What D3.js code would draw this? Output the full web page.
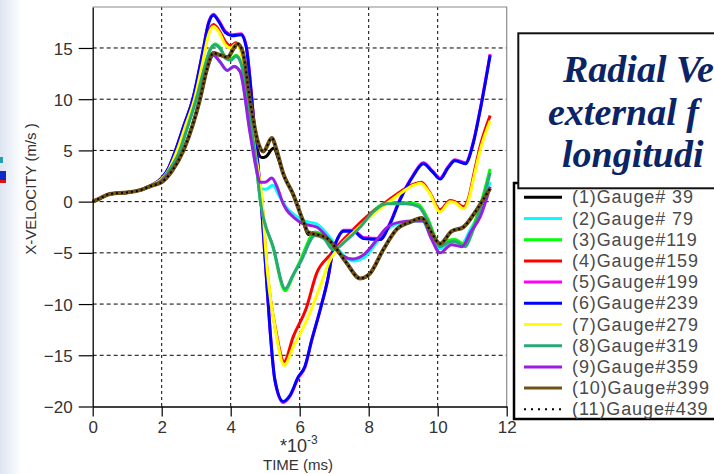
<!DOCTYPE html>
<html>
<head>
<meta charset="utf-8">
<script src="https://cdn.jsdelivr.net/npm/d3@7"></script>
<style>
  body { margin: 0; background: #fff; }
  svg { display: block; font-family: "Liberation Sans", Arial, sans-serif; }
</style>
</head>
<body>
<div id="chart"></div>
<script>
// tick values
const timeTicks = [0, 2, 4, 6, 8, 10, 12]
const velTicks = [-20, -15, -10, -5, 0, 5, 10, 15]

const gaugeLabels = ['(1)Gauge# 39', '(2)Gauge# 79', '(3)Gauge#119', '(4)Gauge#159', '(5)Gauge#199',
    '(6)Gauge#239', '(7)Gauge#279', '(8)Gauge#319', '(9)Gauge#359', '(10)Gauge#399', '(11)Gauge#439']

const titleLines = ['Radial Ve', 'external f', 'longitudi']

// [time (ms *10^-3), x-velocity (m/s)]
const g39 = [[0,0],[0.2,0.3],[0.5,0.75],[1.0,0.9],[1.4,1.15],[1.7,1.55],[2.0,1.9],[2.3,3.0],[2.63,5.0],[2.9,7.5],[3.11,10],[3.3,12.8],[3.5,14.5],[3.7,14.3],[3.9,14.1],[4.2,15.4],[4.35,14.6],[4.56,9.9],[4.75,5.4],[4.9,4.3],[5.02,4.4],[5.24,5.2],[5.4,4.0],[5.55,2.5],[5.8,0.8],[6.1,-1.9],[6.25,-3.2],[6.45,-3.0],[6.6,-3.2],[6.8,-3.6],[7.02,-4.4],[7.36,-6.0],[7.75,-7.5],[8.04,-7.0],[8.42,-4.7],[8.81,-2.7],[9.2,-2.0],[9.54,-1.6],[9.78,-2.8],[10.07,-4.1],[10.4,-2.9],[10.74,-2.5],[11.13,-0.8],[11.52,1.3]]
const g79 = [[0,0],[0.2,0.3],[0.5,0.75],[1.0,0.9],[1.4,1.15],[1.7,1.55],[2.0,2.0],[2.3,3.1],[2.63,5.0],[2.9,7.5],[3.11,10],[3.3,12.8],[3.5,14.3],[3.7,13.6],[3.9,12.8],[4.1,13.2],[4.27,12.7],[4.56,6.9],[4.75,3.0],[4.88,1.3],[5.02,1.2],[5.22,1.6],[5.4,0.6],[5.62,-0.6],[5.85,-1.3],[6.06,-1.8],[6.5,-2.2],[6.9,-3.6],[7.2,-5.0],[7.55,-5.8],[7.85,-5.5],[8.23,-4.0],[8.5,-2.8],[8.9,-2.1],[9.3,-1.9],[9.55,-1.9],[9.8,-3.4],[10.07,-4.6],[10.4,-3.9],[10.7,-4.1],[10.95,-2.7],[11.23,-1.0],[11.52,1.9]]
const g119 = [[0,0],[0.2,0.3],[0.5,0.75],[1.0,0.9],[1.4,1.15],[1.7,1.6],[2.0,2.1],[2.2,3.0],[2.5,4.8],[2.75,7.3],[3.0,10],[3.25,13.2],[3.4,14.8],[3.55,15.4],[3.7,15.0],[3.85,14.1],[4.0,13.9],[4.15,14.3],[4.3,13.6],[4.5,9.5],[4.7,4.8],[4.87,-0.1],[5.23,-4.5],[5.58,-8.7],[5.8,-7.3],[6.01,-5.8],[6.45,-3.0],[6.7,-3.4],[6.97,-4.6],[7.36,-3.6],[7.75,-2.3],[8.13,-0.9],[8.52,-0.1],[9.1,-0.1],[9.45,-0.3],[9.7,-1.6],[10.07,-4.2],[10.3,-3.8],[10.5,-3.7],[10.8,-4.2],[11.0,-2.7],[11.25,-0.2],[11.52,3.2]]
const g159 = [[0,0],[0.2,0.3],[0.5,0.75],[1.0,0.9],[1.4,1.15],[1.7,1.6],[2.0,2.2],[2.2,3.1],[2.45,5.0],[2.7,7.6],[2.95,10.2],[3.2,14.0],[3.35,16.4],[3.5,17.3],[3.65,16.8],[3.85,15.6],[4.0,15.2],[4.15,15.5],[4.3,14.7],[4.5,10.6],[4.7,5.0],[4.9,0.3],[5.05,-6.5],[5.32,-12.8],[5.55,-15.6],[5.81,-13.2],[6.2,-10.3],[6.49,-7.0],[6.88,-5.2],[7.1,-4.3],[7.5,-2.9],[8.0,-1.3],[8.4,-0.3],[8.8,0.7],[9.3,1.7],[9.53,1.9],[9.75,1.0],[10.07,-0.8],[10.36,0.1],[10.5,0.0],[10.75,-0.5],[10.9,0.4],[11.03,2.4],[11.23,5.4],[11.52,8.4]]
const g199 = [[0,0],[0.2,0.3],[0.5,0.75],[1.0,0.9],[1.4,1.15],[1.7,1.6],[2.0,2.3],[2.2,3.3],[2.4,5.0],[2.65,7.5],[2.9,10],[3.2,14.8],[3.35,17.4],[3.5,18.3],[3.65,17.7],[3.85,16.6],[4.05,16.3],[4.3,16.4],[4.45,15.2],[4.6,10.5],[4.7,6.7],[4.85,1.4],[5.02,-6.7],[5.14,-12.5],[5.28,-17.4],[5.52,-19.6],[5.72,-19.0],[5.96,-17.2],[6.15,-16.2],[6.35,-13.5],[6.59,-10.6],[6.83,-7.3],[6.95,-5.0],[7.1,-3.6],[7.27,-2.8],[7.55,-2.8],[7.85,-3.5],[8.33,-3.6],[8.6,-2.2],[8.9,0.2],[9.29,2.6],[9.58,3.8],[9.85,3.0],[10.07,2.3],[10.3,3.4],[10.5,4.1],[10.8,3.8],[11.03,5.8],[11.23,9.0],[11.52,14.4]]
const g239 = [[0,0],[0.2,0.3],[0.5,0.75],[1.0,0.9],[1.4,1.15],[1.7,1.6],[2.0,2.3],[2.2,3.3],[2.4,5.0],[2.65,7.5],[2.9,10],[3.2,14.8],[3.35,17.3],[3.5,18.2],[3.65,17.6],[3.85,16.5],[4.05,16.2],[4.3,16.3],[4.45,15.1],[4.6,10.5],[4.7,6.7],[4.85,1.4],[5.02,-6.7],[5.14,-12.5],[5.28,-17.4],[5.52,-19.5],[5.72,-18.9],[5.96,-17.1],[6.15,-16.1],[6.35,-13.5],[6.59,-10.6],[6.83,-7.3],[6.95,-5.0],[7.1,-3.6],[7.27,-2.9],[7.55,-2.9],[7.85,-3.6],[8.33,-3.7],[8.6,-2.3],[8.9,0.1],[9.29,2.5],[9.58,3.7],[9.85,2.9],[10.07,2.2],[10.3,3.3],[10.5,4.0],[10.8,3.7],[11.03,5.7],[11.23,8.9],[11.52,14.3]]
const g279 = [[0,0],[0.2,0.3],[0.5,0.75],[1.0,0.9],[1.4,1.15],[1.7,1.6],[2.0,2.2],[2.2,3.1],[2.45,5.0],[2.7,7.5],[2.95,10],[3.2,13.8],[3.35,16.2],[3.5,17.1],[3.65,16.6],[3.85,15.3],[4.0,15.0],[4.15,15.4],[4.3,14.6],[4.5,10.5],[4.7,5.0],[4.9,0.5],[5.06,-6.7],[5.33,-13.2],[5.55,-16.0],[5.81,-14.2],[6.2,-11.6],[6.59,-8.3],[6.88,-5.7],[7.1,-4.6],[7.5,-3.2],[8.0,-1.6],[8.4,-0.5],[8.8,0.5],[9.3,1.6],[9.5,1.8],[9.75,0.9],[10.07,-1.0],[10.36,0.0],[10.5,-0.1],[10.75,-0.7],[10.9,0.2],[11.03,2.1],[11.23,5.0],[11.52,7.9]]
const g319 = [[0,0],[0.2,0.3],[0.5,0.75],[1.0,0.9],[1.4,1.15],[1.7,1.6],[2.0,2.1],[2.2,3.0],[2.5,4.8],[2.75,7.3],[3.0,10],[3.25,13.2],[3.4,14.8],[3.55,15.3],[3.7,14.9],[3.85,14.0],[4.0,13.8],[4.15,14.2],[4.3,13.5],[4.5,9.5],[4.7,4.8],[4.87,-0.2],[5.23,-4.4],[5.58,-8.5],[5.8,-7.2],[6.01,-6.0],[6.45,-3.3],[6.7,-3.6],[6.97,-4.7],[7.36,-3.75],[7.75,-2.5],[8.13,-1.0],[8.52,-0.2],[9.1,-0.2],[9.45,-0.5],[9.7,-1.8],[10.07,-4.4],[10.3,-4.0],[10.5,-3.9],[10.8,-4.4],[11.0,-3.0],[11.25,-0.5],[11.52,2.8]]
const g359 = [[0,0],[0.2,0.3],[0.5,0.75],[1.0,0.9],[1.4,1.15],[1.7,1.55],[2.0,2.0],[2.3,3.1],[2.63,5.0],[2.9,7.5],[3.11,10],[3.3,12.8],[3.5,14.3],[3.7,13.6],[3.9,12.8],[4.1,13.2],[4.27,12.7],[4.56,6.7],[4.75,3.1],[4.85,1.9],[5.0,1.9],[5.19,2.3],[5.35,1.4],[5.52,-0.2],[5.62,-0.8],[5.85,-1.6],[6.06,-2.1],[6.5,-2.5],[6.9,-3.9],[7.2,-5.2],[7.55,-5.6],[7.85,-5.2],[8.23,-3.75],[8.5,-2.6],[8.9,-2.0],[9.3,-1.9],[9.58,-1.9],[9.8,-3.5],[10.07,-5.0],[10.4,-4.2],[10.7,-4.4],[10.95,-3.0],[11.23,-1.5],[11.52,1.45]]
const g399 = [[0,0],[0.2,0.3],[0.5,0.75],[1.0,0.9],[1.4,1.15],[1.7,1.55],[2.0,1.9],[2.3,3.0],[2.63,5.0],[2.9,7.5],[3.11,10],[3.3,12.8],[3.5,14.5],[3.7,14.3],[3.9,14.1],[4.2,15.4],[4.35,14.6],[4.56,9.9],[4.8,5.7],[4.95,4.9],[5.19,6.2],[5.35,4.8],[5.52,2.75],[5.8,0.8],[6.1,-1.9],[6.25,-3.0],[6.59,-3.3],[6.8,-3.6],[7.02,-4.4],[7.36,-6.0],[7.75,-7.5],[8.04,-7.0],[8.42,-4.7],[8.81,-2.7],[9.2,-2.0],[9.54,-1.6],[9.78,-2.8],[10.07,-4.1],[10.4,-2.9],[10.74,-2.5],[11.13,-0.8],[11.52,1.3]]
const g439 = [[0,0],[0.2,0.3],[0.5,0.75],[1.0,0.9],[1.4,1.15],[1.7,1.55],[2.0,1.9],[2.3,3.0],[2.63,5.0],[2.9,7.5],[3.11,10],[3.3,12.8],[3.5,14.5],[3.7,14.3],[3.9,14.1],[4.2,15.4],[4.35,14.6],[4.56,9.9],[4.8,5.7],[4.95,4.9],[5.19,6.2],[5.35,4.8],[5.52,2.75],[5.8,0.8],[6.1,-1.9],[6.25,-3.0],[6.59,-3.3],[6.8,-3.6],[7.02,-4.4],[7.36,-6.0],[7.75,-7.5],[8.04,-7.0],[8.42,-4.7],[8.81,-2.7],[9.2,-2.0],[9.54,-1.6],[9.78,-2.8],[10.07,-4.1],[10.4,-2.9],[10.74,-2.5],[11.13,-0.8],[11.52,1.3]]

const seriesData = [g39, g79, g119, g159, g199, g239, g279, g319, g359, g399, g439]
const colors = ['#000000', '#00ffff', '#00ff00', '#ff0000', '#ff00ff', '#0000ff', '#ffff00', '#2ca878', '#9a1ee0', '#6e5216', '#000000']

const fullWidth = 714
const fullHeight = 474

const svg = d3.select('#chart')
    .append('svg')
    .attr('width', fullWidth)
    .attr('height', fullHeight)

svg.append('rect').attr('width', fullWidth).attr('height', fullHeight).attr('fill', '#fff')

// slide background strip on the left
const grad = svg.append('defs').append('linearGradient')
    .attr('id', 'strip')
    .attr('x1', 0).attr('x2', 1).attr('y1', 0).attr('y2', 0)
grad.append('stop').attr('offset', '0%').attr('stop-color', '#dde5f3')
grad.append('stop').attr('offset', '100%').attr('stop-color', '#ffffff')
svg.append('rect').attr('x', 0).attr('y', 0).attr('width', 22).attr('height', fullHeight).attr('fill', 'url(#strip)')
svg.append('rect').attr('x', 0).attr('y', 157).attr('width', 3).attr('height', 6).attr('fill', '#22a0a8')
svg.append('rect').attr('x', 0).attr('y', 171).attr('width', 6).attr('height', 9).attr('fill', '#1028c8')
svg.append('rect').attr('x', 0).attr('y', 180).attr('width', 6).attr('height', 3).attr('fill', '#e01010')

var x = d3.scaleLinear().domain([0, 12]).range([92.7, 506.7])
var y = d3.scaleLinear().domain([-20, 19]).range([406.5, 7])

const plot = svg.append('g')

// grid
plot.append('g')
    .selectAll('line')
    .data(velTicks.filter(d => d > -20))
    .enter().append('line')
    .attr('x1', x(0)).attr('x2', x(12))
    .attr('y1', d => y(d)).attr('y2', d => y(d))
    .attr('stroke', '#000').attr('stroke-width', 1)
    .attr('stroke-dasharray', '4,3')

plot.append('g')
    .selectAll('line')
    .data(timeTicks.filter(d => d > 0 && d < 12))
    .enter().append('line')
    .attr('x1', d => x(d)).attr('x2', d => x(d))
    .attr('y1', y(19)).attr('y2', y(-20))
    .attr('stroke', '#000').attr('stroke-width', 1)
    .attr('stroke-dasharray', '3,3')

// top / right frame
plot.append('path')
    .attr('d', `M${x(0)},${y(19)}H${x(12)}V${y(-20)}`)
    .attr('fill', 'none').attr('stroke', '#8a8a8a').attr('stroke-width', 1.2)

// curves
const line = d3.line()
    .x(d => x(d[0]))
    .y(d => y(d[1]))
    .curve(d3.curveMonotoneX)

seriesData.forEach((s, i) => {
    plot.append('path')
        .datum(s)
        .attr('fill', 'none')
        .attr('stroke', colors[i])
        .attr('stroke-width', i == 9 ? 4 : (i == 10 ? 2 : 3))
        .attr('stroke-dasharray', i == 10 ? '2,3' : null)
        .attr('stroke-linejoin', 'round')
        .attr('d', line)
})

// axes
const xAxis = plot.append('g')
    .attr('transform', `translate(0,${y(-20)})`)
    .call(d3.axisBottom(x).tickValues(timeTicks).tickSize(10).tickSizeOuter(0).tickPadding(4))
const yAxis = plot.append('g')
    .attr('transform', `translate(${x(0)},0)`)
    .call(d3.axisLeft(y).tickValues(velTicks).tickSize(14).tickSizeOuter(0).tickPadding(6))

;[xAxis, yAxis].forEach(a => {
    a.select('.domain').attr('stroke', '#000').attr('stroke-width', 1.3)
    a.selectAll('.tick line').attr('stroke', '#000').attr('stroke-width', 1.2)
    a.selectAll('.tick text')
        .attr('font-size', 17)
        .attr('font-family', '"Liberation Sans", Arial, sans-serif')
        .attr('fill', '#333')
})
yAxis.selectAll('.tick text').attr('dy', '0.36em')

// axis titles
svg.append('text')
    .attr('transform', 'translate(36,189) rotate(-90)')
    .attr('text-anchor', 'middle')
    .attr('font-size', 15)
    .attr('fill', '#333')
    .text('X-VELOCITY (m/s )')

const mult = svg.append('text')
    .attr('x', 280).attr('y', 452)
    .attr('font-size', 18)
    .attr('fill', '#333')
mult.append('tspan').text('*10')
mult.append('tspan').attr('font-size', 12).attr('dy', -8).text('-3')

svg.append('text')
    .attr('x', 263).attr('y', 470)
    .attr('font-size', 15)
    .attr('fill', '#333')
    .text('TIME (ms)')

// legend box
const legend = svg.append('g')
legend.append('rect')
    .attr('x', 514).attr('y', 183)
    .attr('width', 260).attr('height', 236)
    .attr('fill', '#fff')
    .attr('stroke', '#000').attr('stroke-width', 2.5)

gaugeLabels.forEach((lab, i) => {
    let yy = 203.3 + i * 21.2
    legend.append('line')
        .attr('x1', 524).attr('x2', 562)
        .attr('y1', yy - 6).attr('y2', yy - 6)
        .attr('stroke', colors[i])
        .attr('stroke-width', i == 10 ? 2 : 3)
        .attr('stroke-dasharray', i == 10 ? '2,5' : null)
    legend.append('text')
        .attr('x', 572).attr('y', yy)
        .attr('font-size', 18)
        .attr('letter-spacing', 0.9)
        .attr('fill', '#4a4a4a')
        .text(lab)
})

// title box
const title = svg.append('g')
title.append('rect')
    .attr('x', 518.3).attr('y', 33.3)
    .attr('width', 240).attr('height', 155)
    .attr('fill', '#fff')
    .attr('stroke', '#111').attr('stroke-width', 2)

const titleX = [563, 548, 562]
const titleY = [82, 125, 167]
titleLines.forEach((t, i) => {
    title.append('text')
        .attr('x', titleX[i]).attr('y', titleY[i])
        .attr('font-family', '"Liberation Serif", "DejaVu Serif", serif')
        .attr('font-weight', 'bold')
        .attr('font-style', 'italic')
        .attr('font-size', 38)
        .attr('fill', '#0b2466')
        .text(t)
})
</script>
</body>
</html>
